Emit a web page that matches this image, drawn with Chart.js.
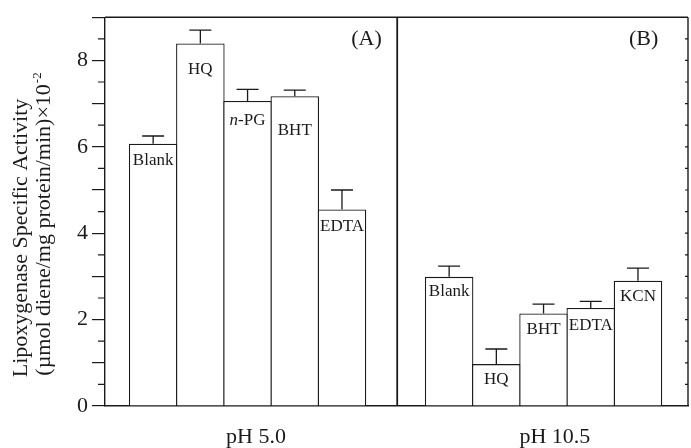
<!DOCTYPE html>
<html>
<head>
<meta charset="utf-8">
<script src="https://cdn.jsdelivr.net/npm/chart.js@4.4.1/dist/chart.umd.min.js"></script>
<style>
  html, body { margin: 0; padding: 0; background: #fff; }
</style>
</head>
<body>
<canvas id="chart" width="691" height="448"></canvas>
<script>
// ── Data ─────────────────────────────────────────────────────────────────────
// panel (A), pH 5.0
const labelsA = ['Blank', 'HQ', 'n-PG', 'BHT', 'EDTA'];
const valuesA = [6.07, 8.39, 7.06, 7.17, 4.55];
const errorsA = [0.18, 0.31, 0.27, 0.14, 0.45];
// panel (B), pH 10.5
const labelsB = ['Blank', 'HQ', 'BHT', 'EDTA', 'KCN'];
const valuesB = [2.99, 0.97, 2.14, 2.27, 2.90];
const errorsB = [0.25, 0.35, 0.22, 0.15, 0.29];

const groupLabels = ['pH 5.0', 'pH 10.5'];
const panelTags = ['(A)', '(B)'];
const yTickLabels = [0, 2, 4, 6, 8];

// ── Layout (x in bar-width units) ────────────────────────────────────────────
const X_MIN = -1.02;
const X_MAX = 11.33;
const OFFSET_B = 6.27;
const DIVIDER_X = 5.17;
const GROUP_LABEL_X = [2.18, 8.51];
const TAG_POS = [[4.52, 8.48], [10.39, 8.48]];
const LABEL_DROP = [[21, 30, 24, 39, 22], [19, 20, 20, 22, 20]];

const INK = '#1a1a1a';
const SERIF = '"Liberation Serif", "Times New Roman", serif';
Chart.defaults.font.family = SERIF;
Chart.defaults.color = INK;

const barStyle = {
    backgroundColor: '#ffffff',
    borderColor: INK,
    borderWidth: 1.3,
    barPercentage: 1.028,
    categoryPercentage: 1,
    grouped: false,
};

const decorations = {
    id: 'decorations',
    afterDraw(chart) {
        const ctx = chart.ctx;
        const xs = chart.scales.x;
        const ys = chart.scales.y;
        const area = chart.chartArea;
        ctx.save();
        ctx.strokeStyle = INK;
        ctx.fillStyle = INK;

        // frame: top, right, divider
        ctx.lineWidth = 1.4;
        ctx.beginPath();
        ctx.moveTo(area.left, area.top);
        ctx.lineTo(area.right, area.top);
        ctx.moveTo(area.right, area.top);
        ctx.lineTo(area.right, area.bottom);
        ctx.stroke();
        ctx.lineWidth = 1.8;
        ctx.beginPath();
        const dx = xs.getPixelForValue(DIVIDER_X);
        ctx.moveTo(dx, area.top);
        ctx.lineTo(dx, area.bottom);
        ctx.stroke();

        // minor ticks left (outward) and all ticks right (inward)
        ctx.lineWidth = 1.2;
        ctx.beginPath();
        for (let v = 0.5; v < 9; v += 1) {
            const py = ys.getPixelForValue(v);
            ctx.moveTo(area.left - 7, py);
            ctx.lineTo(area.left, py);
        }
        for (let v = 0.5; v < 9; v += 0.5) {
            const py = ys.getPixelForValue(v);
            ctx.moveTo(area.right - 3, py);
            ctx.lineTo(area.right, py);
        }
        ctx.stroke();

        // error bars and bar labels
        const errs = [errorsA, errorsB];
        const vals = [valuesA, valuesB];
        const names = [labelsA, labelsB];
        ctx.lineWidth = 1.3;
        chart.data.datasets.forEach(function (ds, d) {
            const meta = chart.getDatasetMeta(d);
            meta.data.forEach(function (bar, i) {
                const yTop = ys.getPixelForValue(vals[d][i] + errs[d][i]);
                ctx.beginPath();
                ctx.moveTo(bar.x, bar.y);
                ctx.lineTo(bar.x, yTop);
                ctx.moveTo(bar.x - 11, yTop);
                ctx.lineTo(bar.x + 11, yTop);
                ctx.stroke();

                const base = bar.y + LABEL_DROP[d][i];
                const name = names[d][i];
                ctx.textBaseline = 'alphabetic';
                if (name.indexOf('n-') === 0) {
                    ctx.font = 'italic 17px ' + SERIF;
                    const w1 = ctx.measureText('n').width;
                    ctx.font = '17px ' + SERIF;
                    const rest = name.slice(1);
                    const w2 = ctx.measureText(rest).width;
                    const x0 = bar.x - (w1 + w2) / 2;
                    ctx.textAlign = 'left';
                    ctx.font = 'italic 17px ' + SERIF;
                    ctx.fillText('n', x0, base);
                    ctx.font = '17px ' + SERIF;
                    ctx.fillText(rest, x0 + w1, base);
                } else {
                    ctx.font = '17px ' + SERIF;
                    ctx.textAlign = 'center';
                    ctx.fillText(name, bar.x, base);
                }
            });
        });

        // panel tags
        ctx.font = '22px ' + SERIF;
        ctx.textAlign = 'center';
        ctx.textBaseline = 'middle';
        panelTags.forEach(function (t, i) {
            ctx.fillText(t, xs.getPixelForValue(TAG_POS[i][0]), ys.getPixelForValue(TAG_POS[i][1]));
        });

        // y axis title, two rotated lines
        const line1 = 'Lipoxygenase Specific Activity';
        const line2 = '(\u00b5mol diene/mg protein/min)\u00d710';
        const sup = '-2';
        ctx.textBaseline = 'alphabetic';
        ctx.textAlign = 'left';
        ctx.font = '22px ' + SERIF;
        const w1 = ctx.measureText(line1).width;
        const w2 = ctx.measureText(line2).width;
        ctx.font = '13px ' + SERIF;
        const ws = ctx.measureText(sup).width;

        ctx.save();
        ctx.translate(27, 238);
        ctx.rotate(-Math.PI / 2);
        ctx.font = '22px ' + SERIF;
        ctx.fillText(line1, -w1 / 2, 0);
        ctx.restore();

        ctx.save();
        ctx.translate(50, 224);
        ctx.rotate(-Math.PI / 2);
        const start = -(w2 + ws + 1) / 2;
        ctx.font = '22px ' + SERIF;
        ctx.fillText(line2, start, 0);
        ctx.font = '13px ' + SERIF;
        ctx.fillText(sup, start + w2 + 1, -9);
        ctx.restore();

        ctx.restore();
    },
};

new Chart(document.getElementById('chart'), {
    type: 'bar',
    data: {
        datasets: [
            Object.assign({
                label: 'pH 5.0',
                data: valuesA.map(function (v, i) { return { x: i, y: v }; }),
            }, barStyle),
            Object.assign({
                label: 'pH 10.5',
                data: valuesB.map(function (v, i) { return { x: i + OFFSET_B, y: v }; }),
            }, barStyle),
        ],
    },
    options: {
        responsive: false,
        animation: false,
        events: [],
        layout: { padding: { top: 14, right: 3, left: 0, bottom: 0 } },
        plugins: {
            legend: { display: false },
            tooltip: { enabled: false },
        },
        scales: {
            x: {
                type: 'linear',
                min: X_MIN,
                max: X_MAX,
                offset: false,
                afterBuildTicks: function (s) {
                    s.ticks = GROUP_LABEL_X.map(function (v) { return { value: v }; });
                },
                afterFit: function (s) { s.height = 42; },
                ticks: {
                    autoSkip: false,
                    maxRotation: 0,
                    padding: 10,
                    font: { size: 22 },
                    color: INK,
                    callback: function (v, i) { return groupLabels[i]; },
                },
                grid: { display: false, offset: false },
                border: { color: INK, width: 1.4 },
            },
            y: {
                min: 0,
                max: 9,
                afterFit: function (s) { s.width = 105; },
                ticks: {
                    stepSize: 1,
                    padding: 4,
                    font: { size: 22 },
                    color: INK,
                    callback: function (v) {
                        return yTickLabels.indexOf(v) >= 0 ? String(v) : '';
                    },
                },
                grid: {
                    drawOnChartArea: false,
                    tickLength: 13,
                    color: INK,
                    lineWidth: 1.2,
                },
                border: { color: INK, width: 1.4 },
            },
        },
    },
    plugins: [decorations],
});
</script>
</body>
</html>
